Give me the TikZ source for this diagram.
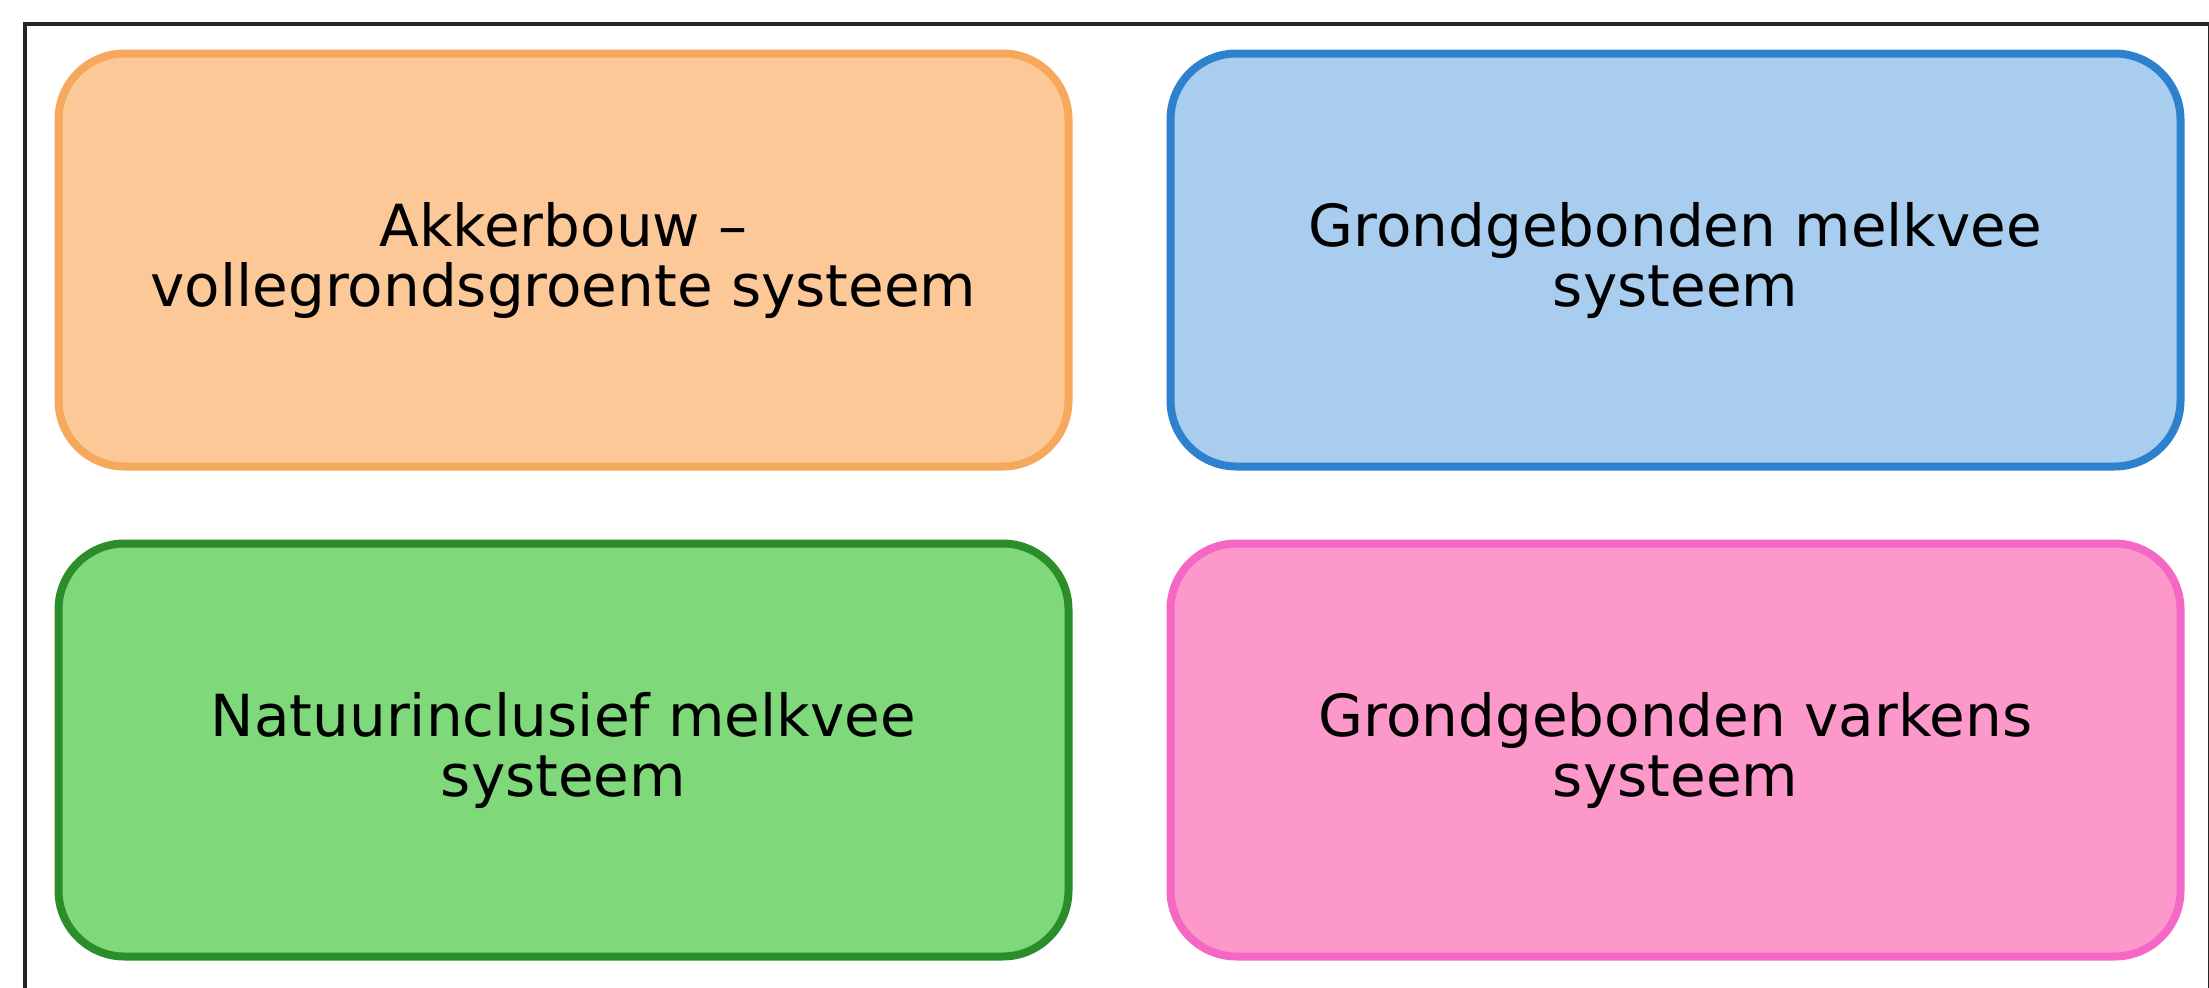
\documentclass[tikz,border=0pt]{standalone}
\usepackage{fontspec}
\setmainfont{DejaVu Sans}
\begin{document}
\begin{tikzpicture}[x=1pt,y=-1pt,
  system/.style={draw, rounded corners=66pt, line width=8pt,
    minimum width=1010pt, minimum height=413pt, inner sep=0pt,
    align=center, font=\fontsize{58}{60}\selectfont, text=black},
  akker/.style={system, fill=akkerfill, draw=akkerline},
  melk/.style={system, fill=melkfill, draw=melkline},
  natuur/.style={system, fill=natuurfill, draw=natuurline},
  varken/.style={system, fill=varkenfill, draw=varkenline}]
\definecolor{akkerfill}{HTML}{FDC897}
\definecolor{akkerline}{HTML}{F6A95C}
\definecolor{melkfill}{HTML}{A8CDEF}
\definecolor{melkline}{HTML}{2E81CD}
\definecolor{natuurfill}{HTML}{7FD97B}
\definecolor{natuurline}{HTML}{2B8E2B}
\definecolor{varkenfill}{HTML}{FD98CB}
\definecolor{varkenline}{HTML}{F467C4}
\useasboundingbox (0,0) rectangle (2209,988);
\clip (0,0) rectangle (2209,988);
\fill[white] (0,0) rectangle (2209,988);
% outer frame, running past the right and bottom edges
\draw[line width=4pt, black!85] (25,24) rectangle (2210,1010);
% the four farming systems
\node[akker]  (akker)  at (563.5,260)  {Akkerbouw –\\vollegrondsgroente systeem};
\node[melk]   (melk)   at (1675.5,260) {Grondgebonden melkvee\\systeem};
\node[natuur] (natuur) at (563.5,750)  {Natuurinclusief melkvee\\systeem};
\node[varken] (varken) at (1675.5,750) {Grondgebonden varkens\\systeem};
\end{tikzpicture}
\end{document}
